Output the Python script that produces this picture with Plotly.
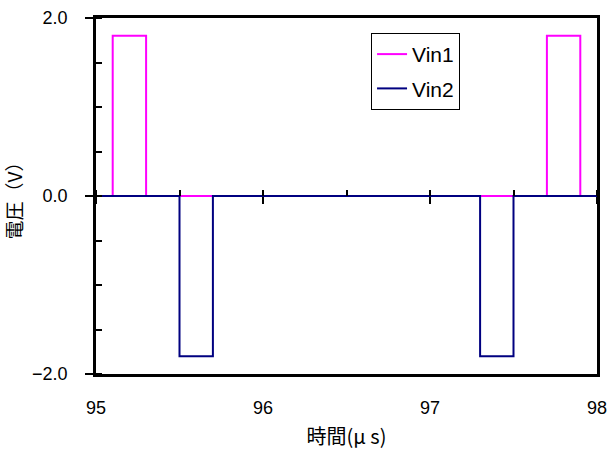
import plotly.graph_objects as go

vin1_t = [95.0, 95.1, 95.1, 95.3, 95.3, 97.7, 97.7, 97.9, 97.9, 98.0]
vin1_v = [0, 0, 1.8, 1.8, 0, 0, 1.8, 1.8, 0, 0]
vin2_t = [95.0, 95.5, 95.5, 95.7, 95.7, 97.3, 97.3, 97.5, 97.5, 98.0]
vin2_v = [0, 0, -1.8, -1.8, 0, 0, -1.8, -1.8, 0, 0]
x_ticks = [95, 96, 97, 98]
y_ticks = [-2.0, 0.0, 2.0]

num_font = "Liberation Sans, Arial, sans-serif"
jp_font = "Noto Sans CJK JP, sans-serif"

fig = go.Figure()
fig.add_trace(go.Scatter(x=vin1_t, y=vin1_v, mode="lines", name="Vin1", legendgroup="a",
                         line=dict(color="#FF00FF", width=2)))
fig.add_trace(go.Scatter(x=vin2_t, y=vin2_v, mode="lines", name="Vin2", legendgroup="b",
                         line=dict(color="#000080", width=2)))

fig.update_layout(
    width=612, height=452,
    margin=dict(l=96, r=15, t=18, b=78),
    paper_bgcolor="white", plot_bgcolor="white",
    showlegend=True,
    legend=dict(x=0.549, y=0.958, xanchor="left", yanchor="top",
                bgcolor="white", bordercolor="black", borderwidth=1,
                font=dict(family=num_font, size=21, color="black"),
                itemwidth=30, tracegroupgap=4),
    xaxis=dict(range=[95, 98], tickvals=x_ticks, ticktext=[str(v) for v in x_ticks],
               showline=True, linecolor="black", linewidth=2.5, mirror=True,
               ticks="", showgrid=False, zeroline=False, automargin=False,
               ticklabelstandoff=16,
               tickfont=dict(family=num_font, size=18, color="black"),
               title=dict(text="時間(μ s)", font=dict(family=jp_font, size=20, color="black"),
                          standoff=13)),
    xaxis2=dict(range=[95, 98], overlaying="x", anchor="free", position=0.5, side="bottom",
                tickmode="linear", tick0=95, dtick=1, ticks="outside", ticklen=7,
                tickwidth=2, tickcolor="black", showticklabels=False, showline=False,
                showgrid=False, zeroline=False, automargin=False),
    xaxis3=dict(range=[95, 98], overlaying="x", anchor="free", position=0.5, side="top",
                tickmode="linear", tick0=95, dtick=0.5, ticks="outside", ticklen=6,
                tickwidth=2, tickcolor="black", showticklabels=False, showline=False,
                showgrid=False, zeroline=False, automargin=False),
    yaxis=dict(range=[-2, 2], tickvals=y_ticks, tickformat=".1f",
               showline=True, linecolor="black", linewidth=2.5, mirror=True,
               ticks="outside", ticklen=8, tickwidth=2, tickcolor="black",
               minor=dict(ticks="inside", dtick=0.5, tick0=0, ticklen=6, tickwidth=2,
                          tickcolor="black", showgrid=False),
               showgrid=False, zeroline=False, automargin=False,
               ticklabelstandoff=14,
               tickfont=dict(family=num_font, size=18, color="black"),
               title=dict(text="電圧（V）", font=dict(family=jp_font, size=19, color="black"),
                          standoff=10)),
)
# invisible traces to activate the helper axes
fig.add_trace(go.Scatter(x=[95], y=[0], xaxis="x2", mode="markers",
                         marker=dict(opacity=0), showlegend=False, hoverinfo="skip"))
fig.add_trace(go.Scatter(x=[95], y=[0], xaxis="x3", mode="markers",
                         marker=dict(opacity=0), showlegend=False, hoverinfo="skip"))

fig.write_html("out.html", config={"displayModeBar": False},
               post_script="document.body.style.margin='0';document.body.style.overflow='hidden';")
